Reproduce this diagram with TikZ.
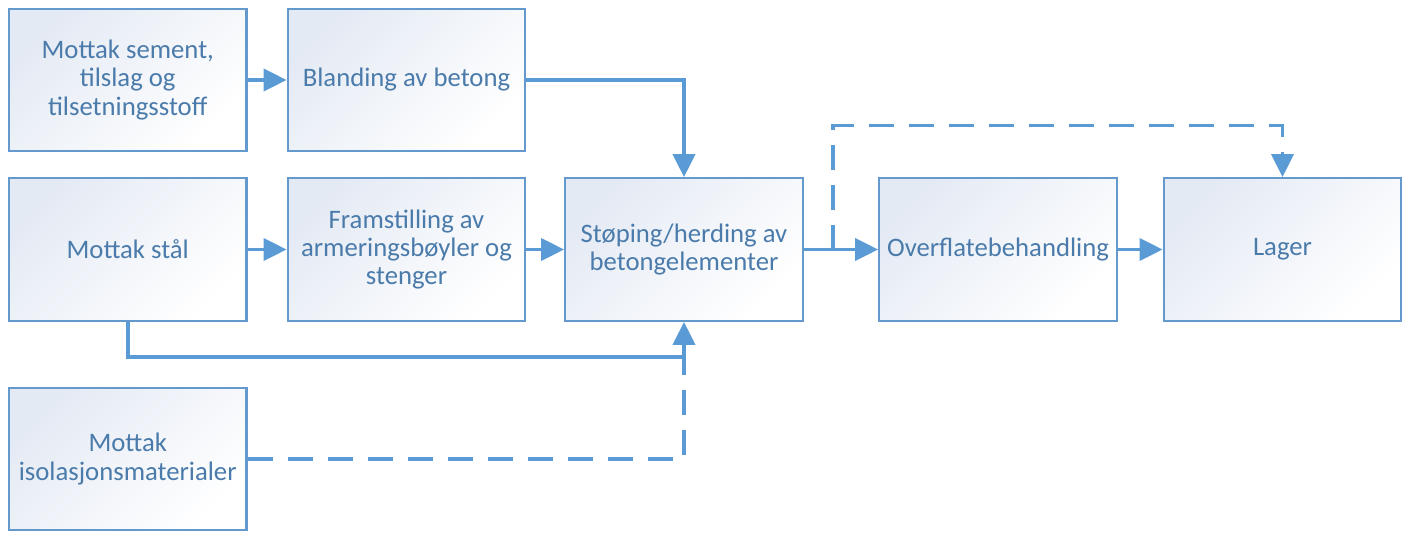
\documentclass[tikz,border=0pt]{standalone}
\usepackage{fontspec}
\setmainfont{Carlito}
\usepackage{xcolor}
\usepackage{tikz}
\usetikzlibrary{calc,arrows.meta}
\definecolor{line}{HTML}{5B9BD5}
\definecolor{edge}{HTML}{6399CC}
\definecolor{txt}{HTML}{4A7BAB}
\definecolor{shade}{HTML}{E4EAF4}
\tikzset{
  box/.style={draw=edge, line width=1.3pt, minimum width=4.75cm, minimum height=2.85cm,
    top color=shade, bottom color=white, shading angle=45, align=center,
    text=txt, font=\fontsize{15.2}{16}\selectfont, inner sep=2pt},
  flow/.style={draw=line, line width=2.1pt, -{Triangle[length=0.46cm, width=0.44cm]}},
  link/.style={draw=line, line width=2.1pt},
  dsh/.style={dash pattern=on 0.5cm off 0.3cm},
}

\begin{document}
\begin{tikzpicture}
  \useasboundingbox (0,0) rectangle (28.14,10.64);
  % first row
  \node[box] (sement) at (2.555,9.04) {Mottak sement,\\tilslag og\\tilsetningsstoff};
  \node[box] (blanding) at (8.13,9.04) {Blanding av betong};
  % second row
  \node[box] (staal) at (2.555,5.65) {Mottak stål};
  \node[box] (armering) at (8.13,5.65) {Framstilling av\\armeringsbøyler og\\stenger};
  \node[box] (stoeping) at (13.68,5.65) {Støping/herding av\\betongelementer};
  \node[box] (overflate) at (19.96,5.65) {Overflatebehandling};
  \node[box] (lager) at (25.65,5.65) {Lager};
  % third row
  \node[box] (isolasjon) at (2.555,1.46) {Mottak\\isolasjonsmaterialer};

  \coordinate (samle) at (stoeping.south |- 0,3.5);
  \coordinate (avgren) at ($(stoeping.east)!0.395!(overflate.west)$);

  \draw[flow] (sement) -- (blanding);
  \draw[flow] (blanding.east) -| (stoeping.north);
  \draw[flow] (staal) -- (armering);
  \draw[flow] (armering) -- (stoeping);
  \draw[flow] (stoeping) -- (overflate);
  \draw[flow] (overflate) -- (lager);
  \draw[flow] (staal.south) |- (samle) -- (stoeping.south);
  \draw[link,dsh] (isolasjon.east) -| (samle);
  \draw[flow,dsh] (avgren) -- ++(0,2.48) -| (lager.north);
\end{tikzpicture}
\end{document}
